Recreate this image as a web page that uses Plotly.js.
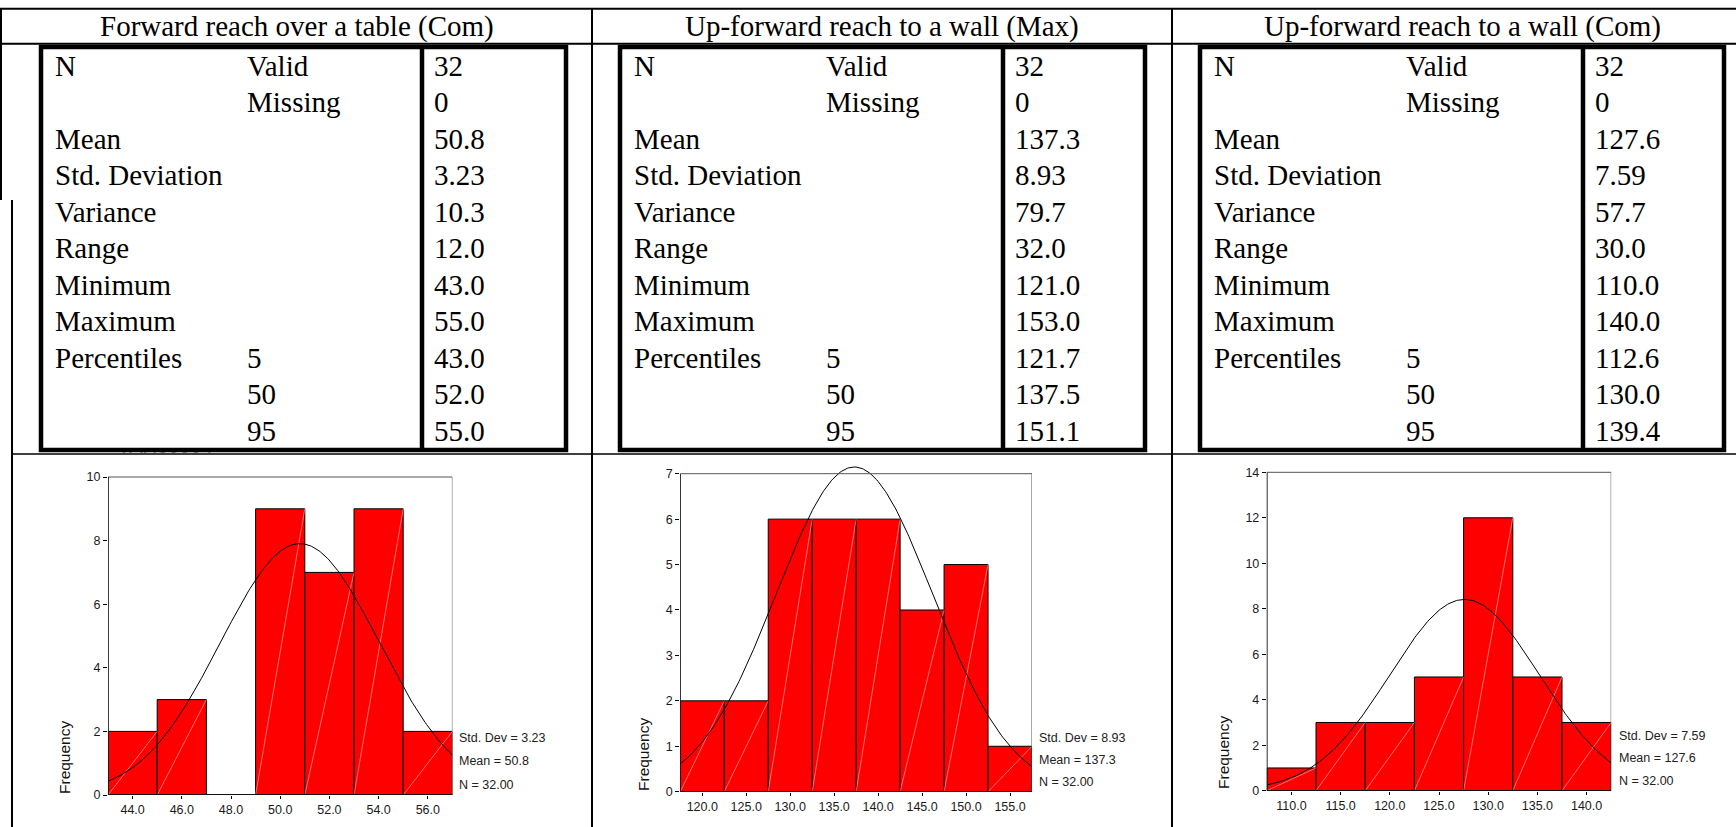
<!DOCTYPE html>
<html>
<head>
<meta charset="utf-8">
<script src="https://cdn.plot.ly/plotly-3.0.1.min.js"></script>
<style>
  html, body { margin: 0; padding: 0; background: #fff; }
  #chart { width: 1736px; height: 827px; }
</style>
</head>
<body>
<div id="chart"></div>
<script>
// ---- Descriptive statistics tables ----
const headings = ['Forward reach over a table (Com)', 'Up-forward reach to a wall (Max)', 'Up-forward reach to a wall (Com)'];
const statNames = ['N', '', 'Mean', 'Std. Deviation', 'Variance', 'Range', 'Minimum', 'Maximum', 'Percentiles', '', ''];
const statSub = ['Valid', 'Missing', '', '', '', '', '', '', '5', '50', '95'];
const forwardTableCom = ['32', '0', '50.8', '3.23', '10.3', '12.0', '43.0', '55.0', '43.0', '52.0', '55.0'];
const upWallMax = ['32', '0', '137.3', '8.93', '79.7', '32.0', '121.0', '153.0', '121.7', '137.5', '151.1'];
const upWallCom = ['32', '0', '127.6', '7.59', '57.7', '30.0', '110.0', '140.0', '112.6', '130.0', '139.4'];
const statValues = [forwardTableCom, upWallMax, upWallCom];

// ---- Histograms: bin centres and frequencies ----
const forwardBins = [44, 46, 48, 50, 52, 54, 56];
const forwardFreq = [2, 3, 0, 9, 7, 9, 2];
const upMaxBins = [120, 125, 130, 135, 140, 145, 150, 155];
const upMaxFreq = [2, 2, 6, 6, 6, 4, 5, 1];
const upComBins = [110, 115, 120, 125, 130, 135, 140];
const upComFreq = [1, 3, 3, 5, 12, 5, 3];
const binCentres = [forwardBins, upMaxBins, upComBins];
const binFreqs = [forwardFreq, upMaxFreq, upComFreq];
const binWidths = [2, 5, 5];

// Sample summaries used by the normal curve and the side legend
const means = [50.8, 137.3, 127.6];
const stdDevs = [3.23, 8.93, 7.59];
const counts = [32, 32, 32];

// Frequency axis tops and steps
const freqTop = [10, 7, 14];
const freqStep = [2, 1, 2];

// ---- Page geometry (pixels) ----
const W = 1736, H = 827;
const fx = v => v / W;
const fy = v => 1 - v / H;

const plotBoxes = [
  { l: 108, r: 452.4, t: 477, b: 795 },
  { l: 680.3, r: 1032, t: 473.7, b: 791.7 },
  { l: 1266.8, r: 1611.2, t: 472.3, b: 790.7 }
];
const legendX = [457, 1036.6, 1616.6];
const legendY = [[738, 761, 785], [737.5, 760, 781.7], [736, 757.5, 780.6]];
const freqLabelPos = [[64, 758], [643, 755], [1223, 753]];

const tables = [
  { l: 41, r: 566, div: 422, head: 296.5 },
  { l: 620, r: 1145, div: 1003, head: 882 },
  { l: 1200, r: 1724, div: 1583, head: 1462 }
];
const tableTop = 47, tableBottom = 450, rowY0 = 66, rowStep = 36.45;

const serif = 'Liberation Serif, Times New Roman, serif';
const sans = 'Liberation Sans, Arial, sans-serif';

const traces = [];
const shapes = [];
const annotations = [];
const layout = {
  width: W, height: H,
  margin: { l: 0, r: 0, t: 0, b: 0, pad: 0 },
  paper_bgcolor: '#ffffff',
  plot_bgcolor: 'rgba(0,0,0,0)',
  showlegend: false,
  bargap: 0
};

// ---- Histogram panels ----
for (let i = 0; i < 3; i++) {
  const box = plotBoxes[i];
  const bins = binCentres[i], freq = binFreqs[i], bw = binWidths[i];
  const xa = i === 0 ? 'x' : 'x' + (i + 1);
  const ya = i === 0 ? 'y' : 'y' + (i + 1);
  const xMin = bins[0] - bw / 2, xMax = bins[bins.length - 1] + bw / 2;
  const yExt = freqTop[i] * 1.05;
  const pxPerUnit = (box.b - box.t) / freqTop[i];
  const domTop = box.b - yExt * pxPerUnit;

  const yTicks = [];
  for (let v = 0; v <= freqTop[i]; v += freqStep[i]) yTicks.push(v);

  layout['xaxis' + (i === 0 ? '' : i + 1)] = {
    domain: [fx(box.l), fx(box.r)], anchor: ya, range: [xMin, xMax],
    tickvals: bins, ticktext: bins.map(v => v.toFixed(1)),
    ticks: 'outside', ticklen: 3, tickwidth: 1, tickcolor: '#000',
    tickfont: { family: sans, size: 12.5, color: '#1a1a1a' },
    showgrid: false, zeroline: false, showline: false, fixedrange: true
  };
  layout['yaxis' + (i === 0 ? '' : i + 1)] = {
    domain: [fy(box.b), fy(domTop)], anchor: xa, range: [0, yExt],
    tickvals: yTicks, ticktext: yTicks.map(String),
    ticks: 'outside', ticklen: 4, tickwidth: 1, tickcolor: '#000',
    tickfont: { family: sans, size: 12.5, color: '#1a1a1a' },
    showgrid: false, zeroline: false, showline: false, fixedrange: true
  };

  traces.push({
    type: 'bar', x: bins, y: freq, width: bins.map(() => bw),
    xaxis: xa, yaxis: ya,
    marker: { color: '#ff0000', line: { color: '#000', width: 1 } },
    hoverinfo: 'skip'
  });

  // faint diagonal highlight across each bar
  const dx = [], dy = [];
  bins.forEach((c, k) => {
    if (freq[k] > 0) { dx.push(c - bw / 2, c + bw / 2, null); dy.push(0, freq[k], null); }
  });
  traces.push({
    type: 'scatter', mode: 'lines', x: dx, y: dy, xaxis: xa, yaxis: ya,
    line: { color: 'rgba(255,235,235,0.6)', width: 0.8 }, hoverinfo: 'skip'
  });

  // normal curve for the stated mean and standard deviation
  const cx = [], cy = [];
  const peak = counts[i] * bw / (stdDevs[i] * Math.sqrt(2 * Math.PI));
  const steps = 240;
  for (let k = 0; k <= steps; k++) {
    const x = xMin + (xMax - xMin) * k / steps;
    const z = (x - means[i]) / stdDevs[i];
    cx.push(x); cy.push(peak * Math.exp(-0.5 * z * z));
  }
  traces.push({
    type: 'scatter', mode: 'lines', x: cx, y: cy, xaxis: xa, yaxis: ya,
    line: { color: '#000', width: 1 }, hoverinfo: 'skip'
  });

  // plot frame
  shapes.push({ type: 'rect', xref: xa, yref: ya, x0: xMin, x1: xMax, y0: 0, y1: freqTop[i],
    line: { color: '#555', width: 1 }, fillcolor: 'rgba(0,0,0,0)', layer: 'above' });
  shapes.push({ type: 'line', xref: xa, yref: ya, x0: xMin, x1: xMin, y0: 0, y1: freqTop[i],
    line: { color: '#000', width: 1.3 }, layer: 'above' });
  shapes.push({ type: 'line', xref: xa, yref: ya, x0: xMin, x1: xMax, y0: 0, y1: 0,
    line: { color: '#000', width: 1.3 }, layer: 'above' });

  // side legend
  const legendLines = ['Std. Dev = ' + stdDevs[i].toFixed(2), 'Mean = ' + means[i].toFixed(1), 'N = ' + counts[i].toFixed(2)];
  legendLines.forEach((t, k) => annotations.push({
    xref: 'paper', yref: 'paper', x: fx(legendX[i]), y: fy(legendY[i][k]),
    xanchor: 'left', yanchor: 'middle', showarrow: false, text: t,
    font: { family: sans, size: 12.5, color: '#222' }
  }));

  annotations.push({
    xref: 'paper', yref: 'paper', x: fx(freqLabelPos[i][0]), y: fy(freqLabelPos[i][1]),
    xanchor: 'center', yanchor: 'middle', showarrow: false, textangle: -90,
    text: 'Frequency', font: { family: sans, size: 15.5, color: '#111' }
  });
}

// ---- Variable name beneath the first table (mostly hidden by the table) ----
layout.xaxis4 = { domain: [0, 1], range: [0, W], visible: false, fixedrange: true, anchor: 'y4' };
layout.yaxis4 = { domain: [0, 1], range: [H, 0], visible: false, fixedrange: true, anchor: 'x4' };
traces.push({
  type: 'scatter', mode: 'text', x: [165], y: [448], text: ['VAR00004'],
  textposition: 'middle center', textfont: { family: sans, size: 20, color: '#333' },
  xaxis: 'x4', yaxis: 'y4', hoverinfo: 'skip', cliponaxis: true
});
shapes.push({ type: 'rect', xref: 'paper', yref: 'paper', x0: fx(60), x1: fx(240), y0: fy(452.5), y1: fy(420),
  line: { width: 0 }, fillcolor: '#ffffff', layer: 'above' });

// ---- Outer page grid ----
function hline(y, x0, x1, w, c) {
  shapes.push({ type: 'line', xref: 'paper', yref: 'paper', x0: fx(x0), x1: fx(x1), y0: fy(y), y1: fy(y),
    line: { color: c || '#000', width: w }, layer: 'above' });
}
function vline(x, y0, y1, w, c) {
  shapes.push({ type: 'line', xref: 'paper', yref: 'paper', x0: fx(x), x1: fx(x), y0: fy(y0), y1: fy(y1),
    line: { color: c || '#000', width: w }, layer: 'above' });
}
hline(8.7, 0, W, 2);
hline(43.7, 0, W, 2);
hline(454, 12, W, 1.6);
vline(1, 8, 200, 2);
vline(12, 200, H, 2);
vline(592, 8, H, 2);
vline(1172, 8, H, 2);

// ---- Inner statistics tables ----
tables.forEach((t, i) => {
  shapes.push({ type: 'rect', xref: 'paper', yref: 'paper', x0: fx(t.l), x1: fx(t.r), y0: fy(tableBottom), y1: fy(tableTop),
    line: { color: '#000', width: 4.5 }, fillcolor: 'rgba(0,0,0,0)', layer: 'above' });
  vline(t.div, tableTop, tableBottom, 4.5);

  annotations.push({
    xref: 'paper', yref: 'paper', x: fx(t.head), y: fy(27), xanchor: 'center', yanchor: 'middle',
    showarrow: false, text: headings[i], font: { family: serif, size: 29, color: '#000' }
  });
  statNames.forEach((name, r) => {
    const y = fy(rowY0 + r * rowStep);
    if (name) annotations.push({ xref: 'paper', yref: 'paper', x: fx(t.l + 12), y: y, xanchor: 'left', yanchor: 'middle',
      showarrow: false, text: name, font: { family: serif, size: 29, color: '#000' } });
    if (statSub[r]) annotations.push({ xref: 'paper', yref: 'paper', x: fx(t.l + 204), y: y, xanchor: 'left', yanchor: 'middle',
      showarrow: false, text: statSub[r], font: { family: serif, size: 29, color: '#000' } });
    annotations.push({ xref: 'paper', yref: 'paper', x: fx(t.div + 10), y: y, xanchor: 'left', yanchor: 'middle',
      showarrow: false, text: statValues[i][r], font: { family: serif, size: 29, color: '#000' } });
  });
});

layout.shapes = shapes;
layout.annotations = annotations;

Plotly.newPlot('chart', traces, layout, { staticPlot: true, displayModeBar: false });
</script>
</body>
</html>
